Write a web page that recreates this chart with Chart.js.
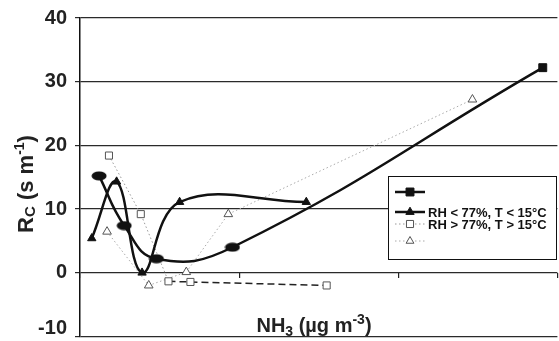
<!DOCTYPE html>
<html>
<head>
<meta charset="utf-8">
<script src="https://cdn.jsdelivr.net/npm/chart.js@4.4.1/dist/chart.umd.min.js"></script>
<style>
html, body { margin: 0; padding: 0; background: #fff; overflow: hidden; }
/* a little larger than the window: the chart keeps 5px free at right/bottom */
#wrap { width: 564px; height: 343px; position: relative; }
</style>
</head>
<body>
<div id="wrap"><canvas id="rcChart"></canvas></div>
<script>
// ---- Data ----
const seriesLabels = ['', 'RH < 77%, T < 15°C', 'RH > 77%, T > 15°C', ''];

// filled ellipses / filled square, solid smooth line
const nh3A = [0.60, 1.39, 2.40, 4.79, 14.54];
const rcA  = [15.2, 7.4, 2.2, 4.0, 32.2];

// filled triangles, solid smooth line
const nh3B = [0.37, 1.15, 1.95, 3.13, 7.11];
const rcB  = [5.4, 14.3, 0.0, 11.1, 11.1];

// open squares, dotted then dashed
const nh3C = [0.91, 1.91, 2.78, 3.47, 7.75];
const rcC  = [18.4, 9.2, -1.35, -1.45, -2.0];

// open triangles, dotted
const nh3D = [0.85, 2.16, 3.34, 4.66, 12.33];
const rcD  = [6.45, -2.0, 0.1, 9.2, 27.2];

const yTicks = [-10, 0, 10, 20, 30, 40];
const xTicks = [0, 5, 10, 15];

const FONT = "'Liberation Sans', Arial, sans-serif";
Chart.defaults.font.family = FONT;

const pts = (xs, ys) => xs.map((v, i) => ({ x: v, y: ys[i] }));

// ellipse marker used by the first series
function ellipseMarker(w, h) {
    const c = document.createElement('canvas');
    c.width = w; c.height = h;
    const g = c.getContext('2d');
    g.fillStyle = '#111';
    g.beginPath();
    g.ellipse(w / 2, h / 2, w / 2 - 0.5, h / 2 - 0.5, 0, 0, Math.PI * 2);
    g.fill();
    return c;
}
const blob = ellipseMarker(16, 10);

// text with sub / superscripts, centred on x
function drawRich(ctx, parts, x, y) {
    let total = 0;
    parts.forEach(p => { ctx.font = `bold ${p[1]}px ${FONT}`; total += ctx.measureText(p[0]).width; });
    let cx = x - total / 2;
    ctx.textAlign = 'left';
    ctx.textBaseline = 'alphabetic';
    parts.forEach(p => {
        ctx.font = `bold ${p[1]}px ${FONT}`;
        ctx.fillText(p[0], cx, y + p[2]);
        cx += ctx.measureText(p[0]).width;
    });
}

const titles = {
    id: 'titles',
    afterDraw(chart) {
        const ctx = chart.ctx;
        ctx.save();
        ctx.fillStyle = '#222';
        drawRich(ctx, [['NH', 20, 0], ['3', 14, 4], [' (µg m', 20, 0], ['-3', 14, -8], [')', 20, 0]], 314, 332);
        ctx.translate(33, 184);
        ctx.rotate(-Math.PI / 2);
        drawRich(ctx, [['R', 22, 0], ['C', 15, 2], [' (s m', 22, 0], ['-1', 14, -9], [')', 22, 0]], 0, 0);
        ctx.restore();
    }
};

// legend box drawn inside the plot
const legendBox = {
    id: 'legendBox',
    afterDraw(chart) {
        const ctx = chart.ctx;
        const x0 = 388, y0 = 176, w = 168, h = 83;
        const rows = [16, 36, 48, 65];
        ctx.save();
        ctx.fillStyle = '#fff';
        ctx.fillRect(x0, y0, w, h);
        ctx.strokeStyle = '#111';
        ctx.lineWidth = 1;
        ctx.strokeRect(x0 + 0.5, y0 + 0.5, w, h);
        chart.data.datasets.forEach((ds, i) => {
            const y = y0 + rows[i];
            ctx.save();
            ctx.strokeStyle = ds.borderColor;
            ctx.lineWidth = ds.borderWidth;
            ctx.setLineDash(ds.borderDash || []);
            ctx.beginPath();
            ctx.moveTo(x0 + 7, y);
            ctx.lineTo(x0 + 37, y);
            ctx.stroke();
            ctx.restore();
            ctx.save();
            ctx.fillStyle = ds.pointBackgroundColor;
            ctx.strokeStyle = ds.pointBorderColor;
            ctx.lineWidth = ds.pointBorderWidth;
            const style = i === 0 ? 'rect' : ds.pointStyle;
            Chart.helpers.drawPoint(ctx, { pointStyle: style, radius: ds.legendRadius, rotation: 0, borderWidth: ds.pointBorderWidth }, x0 + 22, y);
            ctx.restore();
            if (ds.label) {
                ctx.fillStyle = '#111';
                ctx.font = `bold 13px ${FONT}`;
                ctx.textAlign = 'left';
                ctx.textBaseline = 'middle';
                ctx.fillText(ds.label, x0 + 40, y + 1);
            }
        });
        ctx.restore();
    }
};

new Chart(document.getElementById('rcChart'), {
    type: 'line',
    data: {
        datasets: [
            {
                label: seriesLabels[0],
                data: pts(nh3A, rcA),
                borderColor: '#111',
                borderWidth: 2.5,
                tension: 0.45,
                pointStyle: c => c.dataIndex < 4 ? blob : 'rect',
                pointRadius: 5.6,
                legendRadius: 5.6,
                pointBackgroundColor: '#111',
                pointBorderColor: '#111',
                pointBorderWidth: 1
            },
            {
                label: seriesLabels[1],
                data: pts(nh3B, rcB),
                borderColor: '#111',
                borderWidth: 2.5,
                tension: 0.4,
                pointStyle: 'triangle',
                pointRadius: 4.8,
                legendRadius: 4.8,
                pointBackgroundColor: '#111',
                pointBorderColor: '#111',
                pointBorderWidth: 1
            },
            {
                label: seriesLabels[2],
                data: pts(nh3C, rcC),
                borderColor: '#999',
                borderWidth: 1,
                borderDash: [1.5, 2.5],
                tension: 0,
                segment: {
                    borderColor: c => c.p0DataIndex >= 2 ? '#222' : undefined,
                    borderDash: c => c.p0DataIndex >= 2 ? [7, 4] : undefined,
                    borderWidth: c => c.p0DataIndex >= 2 ? 1.5 : undefined
                },
                pointStyle: 'rect',
                pointRadius: 5,
                legendRadius: 5,
                pointBackgroundColor: '#fff',
                pointBorderColor: '#555',
                pointBorderWidth: 1
            },
            {
                label: seriesLabels[3],
                data: pts(nh3D, rcD),
                borderColor: '#aaa',
                borderWidth: 1,
                borderDash: [1.5, 2.5],
                tension: 0,
                pointStyle: 'triangle',
                pointRadius: 5,
                legendRadius: 4.5,
                pointBackgroundColor: '#fff',
                pointBorderColor: '#555',
                pointBorderWidth: 1
            }
        ]
    },
    options: {
        responsive: true,
        maintainAspectRatio: false,
        animation: false,
        devicePixelRatio: 1,
        layout: { padding: { top: 18, bottom: 0, left: 0, right: 0 } },
        plugins: { legend: { display: false }, tooltip: { enabled: false } },
        scales: {
            x: {
                type: 'linear',
                min: 0,
                max: 15,
                position: { y: 0 },
                afterBuildTicks: s => { s.ticks = xTicks.map(v => ({ value: v })); },
                afterFit: s => { s.height = 0; s.paddingLeft = 0; s.paddingRight = 0; },
                ticks: { display: false },
                border: { display: false },
                grid: { drawOnChartArea: false, drawTicks: true, tickLength: 5, color: '#222', lineWidth: 1.2 }
            },
            y: {
                min: -10,
                max: 40,
                afterBuildTicks: s => { s.ticks = yTicks.map(v => ({ value: v })); },
                afterFit: s => { s.width = 80; s.paddingTop = 0; s.paddingBottom = 0; },
                ticks: {
                    color: '#222',
                    padding: 8,
                    font: { size: 20, weight: 'bold', lineHeight: 0.8 },
                    callback: v => v === -10 ? ['-10', ''] : String(v)
                },
                border: { display: true, color: '#111', width: 1.5 },
                grid: { color: '#2a2a2a', lineWidth: 1.2, tickLength: 5, tickColor: '#2a2a2a' }
            }
        }
    },
    plugins: [titles, legendBox]
});
</script>
</body>
</html>
